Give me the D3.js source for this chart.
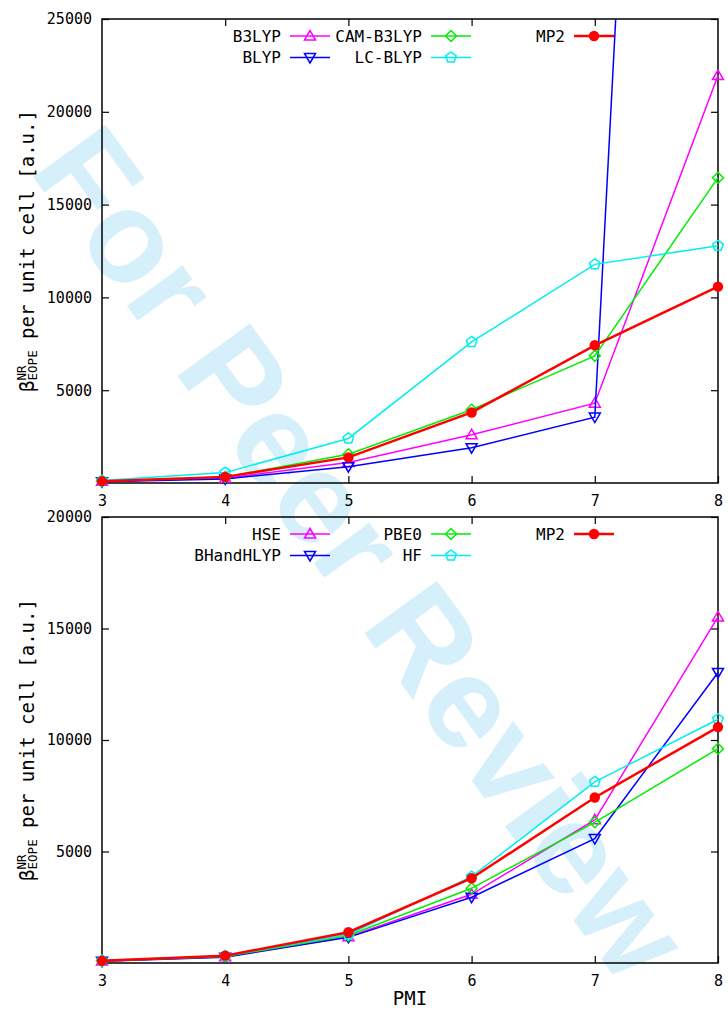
<!DOCTYPE html>
<html>
<head>
<meta charset="utf-8">
<script src="https://cdnjs.cloudflare.com/ajax/libs/d3/7.8.5/d3.min.js"></script>
<style>
  html, body { margin: 0; padding: 0; background: #fff; }
  svg { display: block; }
</style>
</head>
<body>
<div id="chart"></div>
<script>
// PMI values on the x axis
var pmi = [3, 4, 5, 6, 7, 8];

// top panel
var b3lyp    = [90, 260, 1100, 2600, 4300, 21950];
var blyp     = [70, 220, 880, 1900, 3550, 130000];
var camb3lyp = [100, 320, 1550, 3950, 6850, 16450];
var lcblyp   = [130, 560, 2400, 7600, 11780, 12780];
var mp2      = [100, 330, 1380, 3800, 7420, 10580];

// bottom panel
var hse       = [90, 280, 1180, 3080, 6420, 15520];
var bhandhlyp = [80, 260, 1150, 2950, 5580, 13030];
var pbe0      = [95, 290, 1230, 3350, 6310, 9610];
var hf        = [110, 320, 1280, 3870, 8120, 10930];

var topTicks = [5000, 10000, 15000, 20000, 25000];
var bottomTicks = [5000, 10000, 15000, 20000];

var W = 728, H = 1010;
var mono = 'DejaVu Sans Mono';

var svg = d3.select('#chart')
    .append('svg')
    .attr('width', W)
    .attr('height', H);

// watermark, behind everything
svg.append('text')
    .attr('transform', 'translate(362, 553) rotate(54)')
    .attr('text-anchor', 'middle')
    .attr('dominant-baseline', 'central')
    .style('font-family', 'Liberation Sans, Arial, sans-serif')
    .style('font-weight', 'bold')
    .style('font-size', '130px')
    .style('fill', '#d5effb')
    .text('For Peer Review');

var x = d3.scaleLinear().domain([3, 8]).range([102, 718]);

// marker shapes
function marker(kind) {
    if (kind == 'up') return 'M0,-5.5L5.5,4L-5.5,4Z';
    if (kind == 'down') return 'M0,5.5L5.5,-4L-5.5,-4Z';
    if (kind == 'diamond') return 'M0,-5.5L5.5,0L0,5.5L-5.5,0Z';
    if (kind == 'pent') {
        var p = d3.range(5).map(function(i) {
            var a = -Math.PI / 2 + i * 2 * Math.PI / 5;
            return [5.5 * Math.cos(a), 5.5 * Math.sin(a)].join(',');
        });
        return 'M' + p.join('L') + 'Z';
    }
    return null;
}

function drawPoint(g, kind, color, px, py) {
    if (kind == 'circle') {
        g.append('circle')
            .attr('cx', px).attr('cy', py).attr('r', 5.2)
            .style('fill', color);
    } else {
        g.append('path')
            .attr('d', marker(kind))
            .attr('transform', 'translate(' + px + ',' + py + ')')
            .style('fill', 'none')
            .style('stroke', color)
            .style('stroke-width', 1.5);
    }
}

function panel(id, top, bottom, maxY, ticks, series, showXLabel) {
    var y = d3.scaleLinear().domain([0, maxY]).range([bottom, top]);
    var g = svg.append('g');

    g.append('clipPath')
        .attr('id', id)
        .append('rect')
        .attr('x', 0).attr('y', top)
        .attr('width', W).attr('height', bottom - top + 20);

    // ticks, all four sides, pointing inward
    var ax = [
        [d3.axisLeft(y).tickValues(ticks).tickSize(-7).tickPadding(10).tickFormat(d3.format('d')), 102, 0],
        [d3.axisRight(y).tickValues(ticks).tickSize(-7).tickFormat(''), 718, 0],
        [d3.axisBottom(x).tickValues(pmi).tickSize(-7).tickPadding(12).tickFormat(d3.format('d')), 0, bottom],
        [d3.axisTop(x).tickValues([4, 5, 6, 7]).tickSize(-7).tickFormat(''), 0, top]
    ];
    ax.forEach(function(a) {
        var ag = g.append('g')
            .attr('transform', 'translate(' + a[1] + ',' + a[2] + ')')
            .call(a[0]);
        ag.select('.domain').remove();
        ag.selectAll('line').style('stroke', '#000').style('stroke-width', 1.2);
        ag.selectAll('text')
            .style('font-family', mono)
            .style('font-size', '15px')
            .style('fill', '#000');
    });

    g.append('rect')
        .attr('x', 102).attr('y', top)
        .attr('width', 718 - 102).attr('height', bottom - top)
        .style('fill', 'none')
        .style('stroke', '#000')
        .style('stroke-width', 1.5);

    // y label with stacked super/subscript
    var lab = g.append('g');
    var t1 = lab.append('text').style('font-family', mono).style('font-size', '19px').text('\u03b2');
    var w1 = t1.node().getComputedTextLength();
    lab.append('text').attr('x', w1).attr('y', -8.5)
        .style('font-family', mono).style('font-size', '12.5px').text('NR');
    var t3 = lab.append('text').attr('x', w1).attr('y', 3)
        .style('font-family', mono).style('font-size', '12.5px').text('EOPE');
    var w3 = t3.node().getComputedTextLength();
    var t4 = lab.append('text').attr('x', w1 + w3)
        .style('font-family', mono).style('font-size', '19px')
        .style('white-space', 'pre')
        .text('\u00a0per unit cell [a.u.]');
    var total = w1 + w3 + t4.node().getComputedTextLength();
    var cy = (top + bottom) / 2;
    lab.attr('transform', 'translate(34,' + (cy + total / 2) + ') rotate(-90)');

    if (showXLabel) {
        g.append('text')
            .attr('x', (102 + 718) / 2).attr('y', 1005)
            .attr('text-anchor', 'middle')
            .style('font-family', mono)
            .style('font-size', '19px')
            .text('PMI');
    }

    var line = d3.line()
        .x(function(d) { return x(d[0]); })
        .y(function(d) { return y(d[1]); });

    // series
    series.forEach(function(s) {
        var pts = pmi.map(function(p, i) { return [p, s.values[i]]; });
        g.append('path')
            .attr('d', line(pts))
            .attr('clip-path', 'url(#' + id + ')')
            .style('fill', 'none')
            .style('stroke', s.color)
            .style('stroke-width', s.width);
        pts.forEach(function(d) {
            if (d[1] <= maxY) drawPoint(g, s.kind, s.color, x(d[0]), y(d[1]));
        });
    });

    // legend
    var colEnd = [281, 422, 565];
    var rowY = [top + 17, top + 38.5];
    series.forEach(function(s) {
        var tx = colEnd[s.col], ty = rowY[s.row];
        g.append('text')
            .attr('x', tx).attr('y', ty)
            .attr('text-anchor', 'end')
            .attr('dominant-baseline', 'central')
            .style('font-family', mono)
            .style('font-size', '16px')
            .text(s.name);
        g.append('line')
            .attr('x1', tx + 9).attr('x2', tx + 49)
            .attr('y1', ty).attr('y2', ty)
            .style('stroke', s.color)
            .style('stroke-width', s.width);
        drawPoint(g, s.kind, s.color, tx + 29, ty);
    });
}

panel('clipTop', 19, 483, 25000, topTicks, [
    { name: 'B3LYP', values: b3lyp, color: '#ff00ff', kind: 'up', width: 1.5, col: 0, row: 0 },
    { name: 'BLYP', values: blyp, color: '#0000ff', kind: 'down', width: 1.5, col: 0, row: 1 },
    { name: 'CAM-B3LYP', values: camb3lyp, color: '#00ee00', kind: 'diamond', width: 1.5, col: 1, row: 0 },
    { name: 'LC-BLYP', values: lcblyp, color: '#00eeee', kind: 'pent', width: 1.5, col: 1, row: 1 },
    { name: 'MP2', values: mp2, color: '#ff0000', kind: 'circle', width: 2.5, col: 2, row: 0 }
], false);

panel('clipBottom', 517, 963, 20000, bottomTicks, [
    { name: 'HSE', values: hse, color: '#ff00ff', kind: 'up', width: 1.5, col: 0, row: 0 },
    { name: 'BHandHLYP', values: bhandhlyp, color: '#0000ff', kind: 'down', width: 1.5, col: 0, row: 1 },
    { name: 'PBE0', values: pbe0, color: '#00ee00', kind: 'diamond', width: 1.5, col: 1, row: 0 },
    { name: 'HF', values: hf, color: '#00eeee', kind: 'pent', width: 1.5, col: 1, row: 1 },
    { name: 'MP2', values: mp2, color: '#ff0000', kind: 'circle', width: 2.5, col: 2, row: 0 }
], true);
</script>
</body>
</html>
